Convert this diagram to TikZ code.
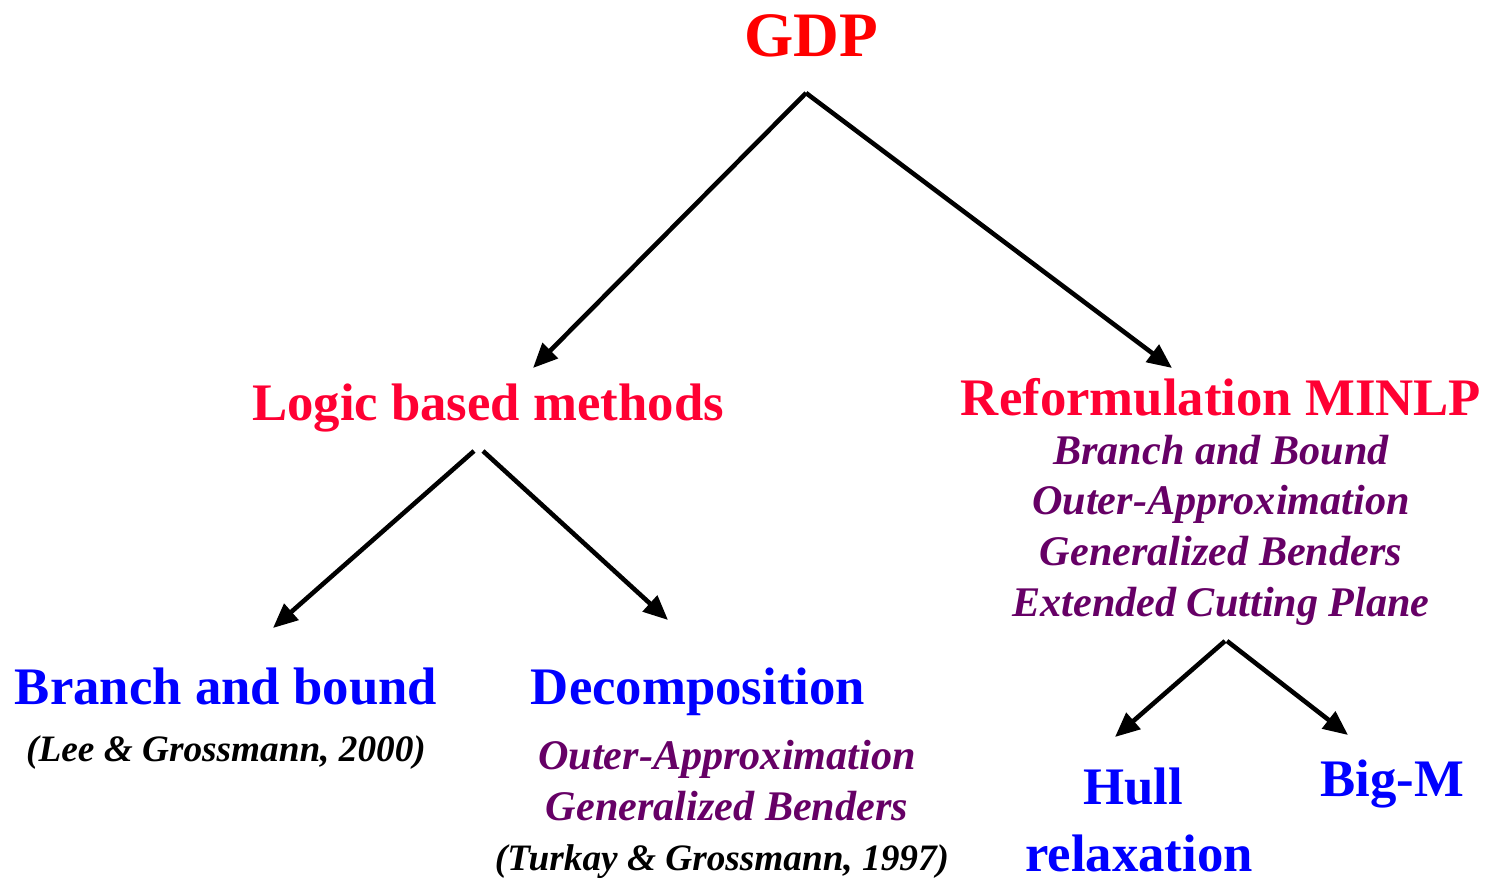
\documentclass[tikz,border=0pt]{standalone}
\usepackage{fontspec}
\setmainfont{Liberation Serif}
\usetikzlibrary{arrows.meta}
\definecolor{gdpred}{RGB}{255,0,0}
\definecolor{methodred}{RGB}{255,0,51}
\definecolor{plum}{RGB}{102,0,102}
\begin{document}
\begin{tikzpicture}[x=0.01cm, y=-0.01cm,
        every node/.style={inner sep=0pt, anchor=base},
        title/.style={font=\fontsize{18}{20}\selectfont\bfseries, text=gdpred},
        method/.style={font=\fontsize{15}{18}\selectfont\bfseries, text=methodred},
        algo/.style={font=\fontsize{15}{18}\selectfont\bfseries, text=blue},
        variant/.style={font=\fontsize{12}{14}\selectfont\bfseries\itshape, text=plum},
        ref/.style={font=\fontsize{10.6}{12}\selectfont\bfseries\itshape},
        link/.style={-{Triangle[length=7pt,width=6pt]}, line width=1.3pt}
      ]
      \useasboundingbox (0,0) rectangle (1488,883);

      % root
      \node[title] at (811,57) (gdp) {GDP};
      \coordinate (gdp-fork) at (806,93);

      % left side
      \node[method] at (488,421) (logic) {Logic based methods};
      \coordinate (logic-tip) at (533,368);
      \coordinate (logic-forkl) at (474,451);
      \coordinate (logic-forkr) at (483,451);
      \node[algo] at (226,705) (bb) {Branch and bound};
      \node[ref] at (226,762) (bbref) {(Lee \& Grossmann, 2000)};
      \coordinate (bb-tip) at (273,628);
      \node[algo] at (698,705) (dec) {Decomposition};
      \node[variant] at (727,770) (decoa) {Outer-Approximation};
      \node[variant] at (727,821) (decgb) {Generalized Benders};
      \node[ref] at (722,871) (decref) {(Turkay \& Grossmann, 1997)};
      \coordinate (dec-tip) at (668,620);

      % right side
      \node[method] at (1221,416) (minlp) {Reformulation MINLP};
      \coordinate (minlp-tip) at (1172,368);
      \node[variant] at (1221,465) (minlpbb) {Branch and Bound};
      \node[variant] at (1221,515) (minlpoa) {Outer-Approximation};
      \node[variant] at (1221,566) (minlpgb) {Generalized Benders};
      \node[variant] at (1221,617) (minlpec) {Extended Cutting Plane};
      \coordinate (minlp-forkl) at (1225,641);
      \coordinate (minlp-forkr) at (1227,641);
      \node[algo] at (1133,805) (hull) {Hull};
      \node[algo] at (1139,872) (hullrel) {relaxation};
      \coordinate (hull-tip) at (1115,737);
      \node[algo] at (1392,797) (bigm) {Big-M};
      \coordinate (bigm-tip) at (1348,735);

      % edges
      \draw[link] (gdp-fork) -- (logic-tip);
      \draw[link] (gdp-fork) -- (minlp-tip);
      \draw[link] (logic-forkl) -- (bb-tip);
      \draw[link] (logic-forkr) -- (dec-tip);
      \draw[link] (minlp-forkl) -- (hull-tip);
      \draw[link] (minlp-forkr) -- (bigm-tip);
  \end{tikzpicture}
\end{document}
